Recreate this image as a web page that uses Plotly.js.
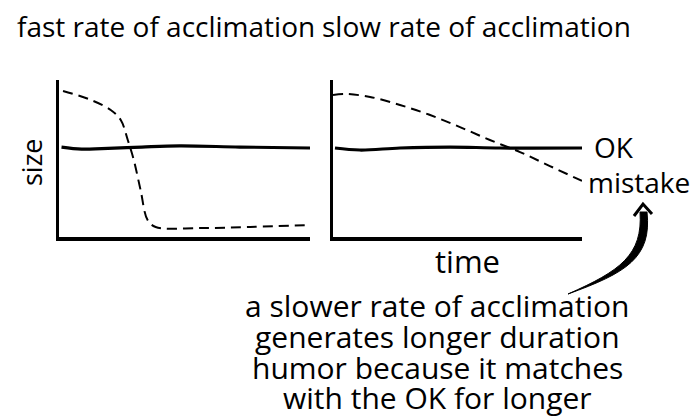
<!DOCTYPE html>
<html><head><meta charset="utf-8">
<script src="https://cdn.plot.ly/plotly-3.0.1.min.js"></script>
<style>html,body{margin:0;padding:0;background:#fff}</style>
</head><body>
<div id="chart" style="width:696px;height:418px"></div>
<script>
// ---- data ----
const panelTitles = ["fast rate of acclimation", "slow rate of acclimation"];
const seriesNames = ["OK", "mistake"];
const xLabel = "time";
const yLabel = "size";
const noteLines = ["a slower rate of acclimation", "generates longer duration", "humor because it matches", "with the OK for longer"];

const fastOkX = [0.1, 0.9, 1.7, 3.3, 4.8, 7.2, 10];
const fastOkY = [5.73, 5.6, 5.63, 5.73, 5.8, 5.73, 5.67];
const fastMistakeX = [0.16, 1.27, 2.06, 2.46, 2.74, 2.98, 3.25, 3.53, 3.85, 5.63, 7.62, 10];
const fastMistakeY = [9.3, 8.73, 8.09, 7.45, 6.18, 4.9, 2.99, 1.08, 0.64, 0.57, 0.64, 0.76];

const slowOkX = [0.08, 1.08, 2.69, 4.7, 6.71, 10];
const slowOkY = [5.67, 5.54, 5.67, 5.73, 5.67, 5.67];
const slowMistakeX = [0, 0.48, 1.49, 2.69, 3.9, 5.1, 6.3, 7.51, 8.71, 10];
const slowMistakeY = [9.04, 9.11, 8.92, 8.41, 7.77, 7.0, 6.18, 5.41, 4.52, 3.57];

// ---- helpers (pixel -> paper) ----
const W = 696, H = 418;
const px = x => x / W;
const py = y => 1 - y / H;
const FONT = "Open Sans";

const okStyle = {color: "#000", width: 3.2, shape: "spline", smoothing: 1};
const misStyle = {color: "#000", width: 2, dash: "10px,6px", shape: "spline", smoothing: 1};

const traces = [
  {x: fastOkX, y: fastOkY, xaxis: "x", yaxis: "y", mode: "lines", line: okStyle, name: seriesNames[0], showlegend: false, hoverinfo: "skip"},
  {x: fastMistakeX, y: fastMistakeY, xaxis: "x", yaxis: "y", mode: "lines", line: misStyle, name: seriesNames[1], showlegend: false, hoverinfo: "skip"},
  {x: slowOkX, y: slowOkY, xaxis: "x2", yaxis: "y2", mode: "lines", line: okStyle, name: seriesNames[0], showlegend: false, hoverinfo: "skip"},
  {x: slowMistakeX, y: slowMistakeY, xaxis: "x2", yaxis: "y2", mode: "lines", line: misStyle, name: seriesNames[1], showlegend: false, hoverinfo: "skip"}
];

const axBase = {range: [0, 10], showgrid: false, zeroline: false, showticklabels: false, ticks: "", showline: true, linecolor: "#000", linewidth: 3.5, fixedrange: true};

const ann = (text, x, y, size, extra) => Object.assign({
  text: text, xref: "paper", yref: "paper", x: px(x), y: py(y), showarrow: false,
  xanchor: "center", yanchor: "middle", font: {family: FONT, size: size, color: "#000", weight: 400}
}, extra || {});

const annotations = [
  ann(panelTitles[0], 166, 26, 28),
  ann(panelTitles[1], 477, 26, 28),
  ann(yLabel, 31, 162, 27, {textangle: -90}),
  ann(xLabel, 467, 261, 31),
  ann(seriesNames[0], 592, 147, 28, {xanchor: "left"}),
  ann(seriesNames[1], 586, 182, 28, {xanchor: "left"})
];
const lineYs = [305, 336, 367, 397];
noteLines.forEach((t, i) => annotations.push(ann(t, 437, lineYs[i], 30)));

const P = (x, y) => px(x) + "," + py(y);
const shapes = [
  {type: "path", xref: "paper", yref: "paper",
   path: "M" + P(568, 294) + " C" + P(626, 273) + " " + P(652, 258) + " " + P(647, 212) +
         " L" + P(640, 212) + " C" + P(643, 255) + " " + P(620, 271) + " " + P(568, 294) + " Z",
   fillcolor: "#000", line: {color: "#000", width: 1}},
  {type: "path", xref: "paper", yref: "paper",
   path: "M" + P(634, 216) + " L" + P(643, 204) + " L" + P(652, 214),
   line: {color: "#000", width: 3}}
];

const layout = {
  width: W, height: H,
  margin: {l: 0, r: 0, t: 0, b: 0},
  paper_bgcolor: "#fff", plot_bgcolor: "#fff",
  showlegend: false,
  xaxis: Object.assign({}, axBase, {domain: [px(59), px(310)], anchor: "y"}),
  yaxis: Object.assign({}, axBase, {domain: [py(237), py(80)], anchor: "x"}),
  xaxis2: Object.assign({}, axBase, {domain: [px(333), px(582)], anchor: "y2"}),
  yaxis2: Object.assign({}, axBase, {domain: [py(237), py(80)], anchor: "x2"}),
  annotations: annotations,
  shapes: shapes
};

Plotly.newPlot("chart", traces, layout, {staticPlot: true, displayModeBar: false});
</script>
</body></html>
